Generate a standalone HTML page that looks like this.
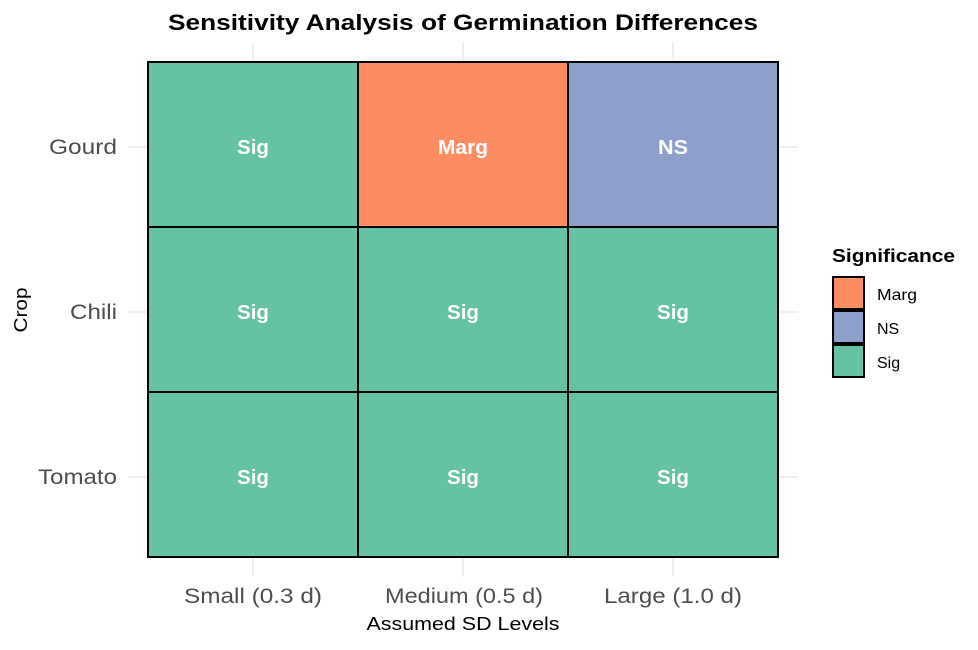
<!DOCTYPE html>
<html><head><style>body{margin:0;background:#fff}</style></head><body>
<svg width="978" height="645" xmlns="http://www.w3.org/2000/svg" font-family="Liberation Sans, sans-serif">
<rect width="978" height="645" fill="#fff"/>
<g stroke="#ebebeb" stroke-width="1.5">
<line x1="253" y1="42" x2="253" y2="577"/><line x1="463" y1="42" x2="463" y2="577"/><line x1="673" y1="42" x2="673" y2="577"/>
<line x1="127" y1="147" x2="798" y2="147"/><line x1="127" y1="312" x2="798" y2="312"/><line x1="127" y1="477" x2="798" y2="477"/>
</g>
<g stroke="#000" stroke-width="2">
<rect x="148" y="62" width="210" height="165" fill="#66c2a5"/>
<rect x="358" y="62" width="210" height="165" fill="#fc8d62"/>
<rect x="568" y="62" width="210" height="165" fill="#8da0cb"/>
<rect x="148" y="227" width="210" height="165" fill="#66c2a5"/>
<rect x="358" y="227" width="210" height="165" fill="#66c2a5"/>
<rect x="568" y="227" width="210" height="165" fill="#66c2a5"/>
<rect x="148" y="392" width="210" height="165" fill="#66c2a5"/>
<rect x="358" y="392" width="210" height="165" fill="#66c2a5"/>
<rect x="568" y="392" width="210" height="165" fill="#66c2a5"/>
</g>
<g fill="#fff" font-weight="bold" font-size="20" text-anchor="middle">
<text x="253" y="154" textLength="32" lengthAdjust="spacingAndGlyphs">Sig</text><text x="463" y="154" textLength="50" lengthAdjust="spacingAndGlyphs">Marg</text><text x="673" y="154" textLength="30" lengthAdjust="spacingAndGlyphs">NS</text>
<text x="253" y="319" textLength="32" lengthAdjust="spacingAndGlyphs">Sig</text><text x="463" y="319" textLength="32" lengthAdjust="spacingAndGlyphs">Sig</text><text x="673" y="319" textLength="32" lengthAdjust="spacingAndGlyphs">Sig</text>
<text x="253" y="484" textLength="32" lengthAdjust="spacingAndGlyphs">Sig</text><text x="463" y="484" textLength="32" lengthAdjust="spacingAndGlyphs">Sig</text><text x="673" y="484" textLength="32" lengthAdjust="spacingAndGlyphs">Sig</text>
</g>
<text x="463" y="30" font-size="22" font-weight="bold" text-anchor="middle" textLength="590" lengthAdjust="spacingAndGlyphs">Sensitivity Analysis of Germination Differences</text>
<g fill="#4d4d4d" font-size="21" text-anchor="end">
<text x="117" y="154" textLength="68" lengthAdjust="spacingAndGlyphs">Gourd</text><text x="117" y="319" textLength="47" lengthAdjust="spacingAndGlyphs">Chili</text><text x="117" y="484" textLength="79" lengthAdjust="spacingAndGlyphs">Tomato</text>
</g>
<g fill="#4d4d4d" font-size="21" text-anchor="middle">
<text x="253" y="603" textLength="138" lengthAdjust="spacingAndGlyphs">Small (0.3 d)</text><text x="464" y="603" textLength="158" lengthAdjust="spacingAndGlyphs">Medium (0.5 d)</text><text x="673" y="603" textLength="138" lengthAdjust="spacingAndGlyphs">Large (1.0 d)</text>
</g>
<text x="463" y="630" font-size="18" text-anchor="middle" textLength="193" lengthAdjust="spacingAndGlyphs">Assumed SD Levels</text>
<text transform="translate(27,310) rotate(-90)" font-size="18" text-anchor="middle" textLength="45" lengthAdjust="spacingAndGlyphs">Crop</text>
<text x="832" y="262" font-size="18" font-weight="bold" textLength="123" lengthAdjust="spacingAndGlyphs">Significance</text>
<g stroke="#000" stroke-width="2">
<rect x="833" y="277" width="31" height="32" fill="#fc8d62"/>
<rect x="833" y="311" width="31" height="32" fill="#8da0cb"/>
<rect x="833" y="345" width="31" height="32" fill="#66c2a5"/>
</g>
<g font-size="16"><text x="877" y="300" textLength="40" lengthAdjust="spacingAndGlyphs">Marg</text><text x="877" y="334">NS</text><text x="877" y="368">Sig</text></g>
</svg>
</body></html>
